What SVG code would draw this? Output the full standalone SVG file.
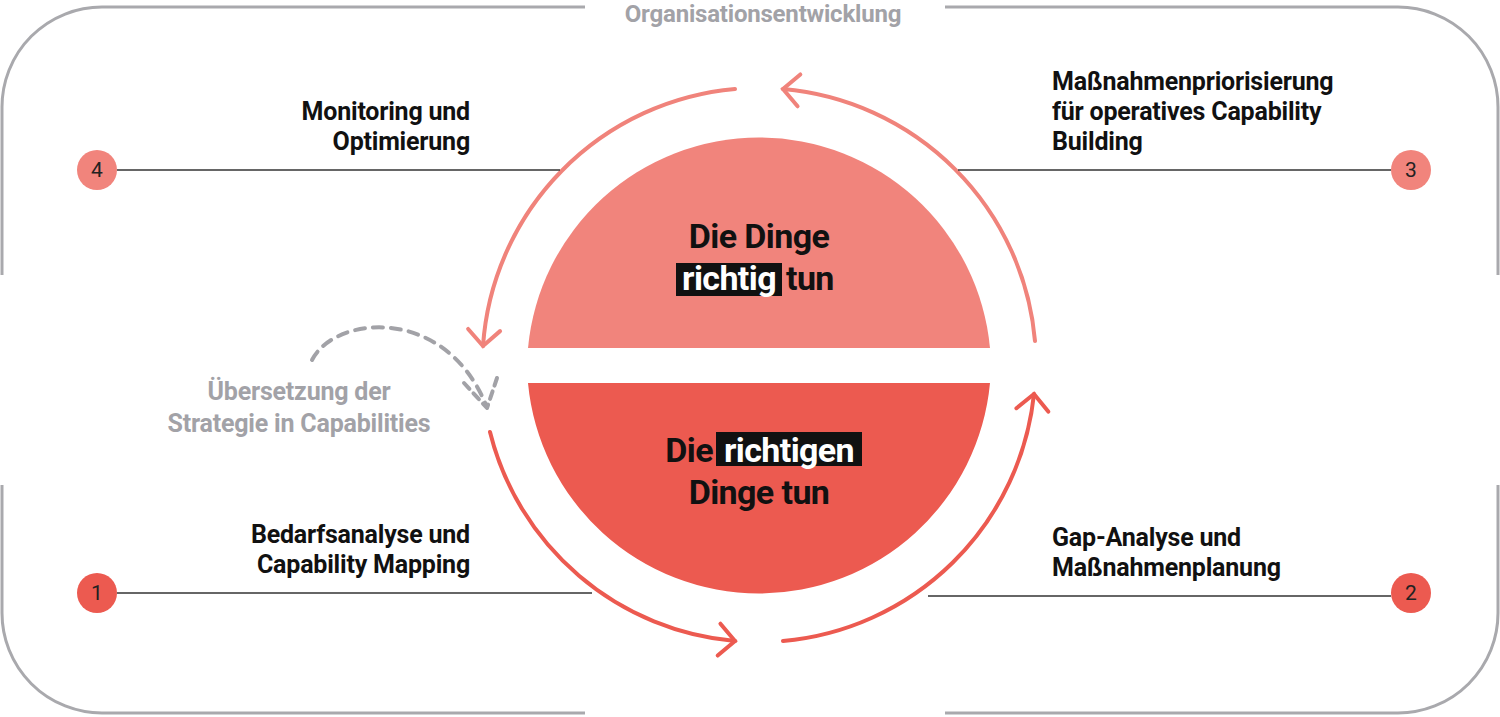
<svg xmlns="http://www.w3.org/2000/svg" width="1500" height="717" viewBox="0 0 1500 717">
<style>
.lbl{font-family:Roboto,"Liberation Sans",sans-serif;font-weight:700;font-size:25px;fill:#111;letter-spacing:-0.2px}
.gray{fill:#a2a2a7}
.big{font-family:Roboto,"Liberation Sans",sans-serif;font-weight:700;font-size:34px;fill:#111;letter-spacing:-0.6px;text-anchor:middle}
.num{font-family:Roboto,"Liberation Sans",sans-serif;font-size:21px;fill:#222;text-anchor:middle}
.ln{stroke:#333;stroke-width:1.6;fill:none}
.lt{stroke:#f0837b;stroke-width:4;fill:none;stroke-linecap:round}
.dk{stroke:#ec5a50;stroke-width:4;fill:none;stroke-linecap:round}
</style>
<defs>
<marker id="hl" viewBox="-20 -20 40 40" markerWidth="40" markerHeight="40" markerUnits="userSpaceOnUse" orient="auto" refX="0" refY="0"><path d="M-16,-16 L0,0 L-16,16" fill="none" stroke="#f0837b" stroke-width="4" stroke-linecap="round"/></marker>
<marker id="hd" viewBox="-20 -20 40 40" markerWidth="40" markerHeight="40" markerUnits="userSpaceOnUse" orient="auto" refX="0" refY="0"><path d="M-16,-16 L0,0 L-16,16" fill="none" stroke="#ec5a50" stroke-width="4" stroke-linecap="round"/></marker>
</defs>
<rect width="1500" height="717" fill="#fff"/>
<g id="frame" fill="none" stroke="#a9a9ad" stroke-width="3">
<path d="M585,7 H102 A100,100 0 0 0 2,107 V275"/>
<path d="M945,7 H1398 A100,100 0 0 1 1498,107 V275"/>
<path d="M2,485 V613 A100,100 0 0 0 102,713 H585"/>
<path d="M1498,485 V613 A100,100 0 0 1 1398,713 H945"/>
</g>
<text class="lbl gray" x="763" y="22" text-anchor="middle" style="font-size:24px">Organisationsentwicklung</text>
<g id="center">
<path d="M528,348 A232,232 0 0 1 990,348 Z" fill="#f1847c"/>
<path d="M528,383 H990 A232,232 0 0 1 528,383 Z" fill="#ec5a50"/>
<text class="big" x="759" y="248">Die Dinge</text>
<rect x="676" y="263" width="106" height="33" fill="#111"/>
<text class="big" x="729" y="290" style="fill:#fff">richtig</text>
<text class="big" x="786" y="290" style="text-anchor:start">tun</text>
<text class="big" x="713" y="462" style="text-anchor:end">Die</text>
<rect x="716" y="432" width="146" height="34" fill="#111"/>
<text class="big" x="789" y="462" style="fill:#fff">richtigen</text>
<text class="big" x="759" y="504">Dinge tun</text>
</g>
<g id="connectors">
<path class="lt" d="M1035,341 A277,277 0 0 0 783,89" marker-end="url(#hl)"/>
<path class="lt" d="M735,89 A277,277 0 0 0 483,346" marker-end="url(#hl)"/>
<path class="dk" d="M490,432 A277,277 0 0 0 735,641" marker-end="url(#hd)"/>
<path class="dk" d="M783,641 A277,277 0 0 0 1034,394" marker-end="url(#hd)"/>
<path d="M312,360 C335,315 445,305 486,405" fill="none" stroke="#a2a2a7" stroke-width="4" stroke-dasharray="10 8" stroke-linecap="round"/>
<path d="M464,383 L487,408 M497,378 L487,408" fill="none" stroke="#a2a2a7" stroke-width="4" stroke-dasharray="8 6" stroke-linecap="round"/>
<line class="ln" x1="117" y1="170" x2="560" y2="170"/>
<line class="ln" x1="958" y1="170" x2="1391" y2="170"/>
<line class="ln" x1="117" y1="593" x2="592" y2="593"/>
<line class="ln" x1="928" y1="596" x2="1391" y2="596"/>
</g>
<g id="step4"><circle cx="97" cy="170" r="20" fill="#f1847c"/><text class="num" x="97" y="177">4</text>
<text class="lbl" x="470" y="120" text-anchor="end">Monitoring und</text><text class="lbl" x="470" y="150" text-anchor="end">Optimierung</text></g>
<g id="step3"><circle cx="1411" cy="170" r="20" fill="#f1847c"/><text class="num" x="1411" y="177">3</text>
<text class="lbl" x="1052" y="90">Maßnahmenpriorisierung</text><text class="lbl" x="1052" y="120">für operatives Capability</text><text class="lbl" x="1052" y="150">Building</text></g>
<g id="step1"><circle cx="97" cy="593" r="20" fill="#ec5a50"/><text class="num" x="97" y="600">1</text>
<text class="lbl" x="470" y="543" text-anchor="end">Bedarfsanalyse und</text><text class="lbl" x="470" y="573" text-anchor="end">Capability Mapping</text></g>
<g id="step2"><circle cx="1411" cy="593" r="20" fill="#ec5a50"/><text class="num" x="1411" y="600">2</text>
<text class="lbl" x="1052" y="546">Gap-Analyse und</text><text class="lbl" x="1052" y="576">Maßnahmenplanung</text></g>
<g id="translate"><text class="lbl gray" x="299" y="400" text-anchor="middle">Übersetzung der</text><text class="lbl gray" x="299" y="432" text-anchor="middle">Strategie in Capabilities</text></g>
</svg>
